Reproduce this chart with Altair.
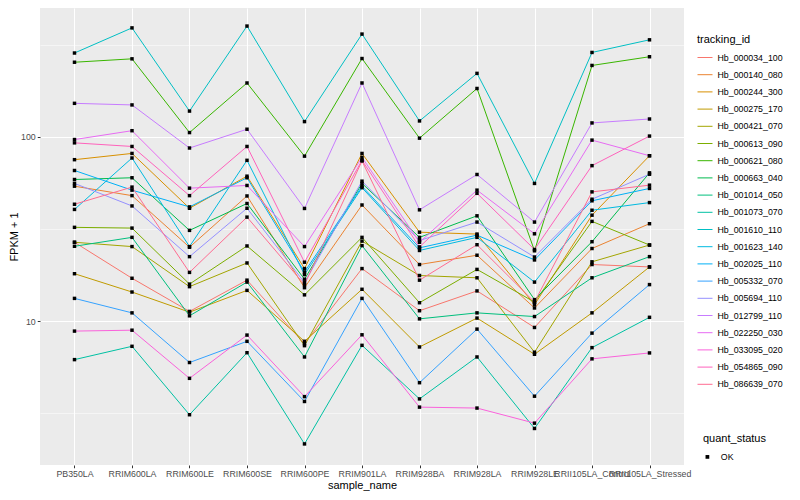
import altair as alt
import pandas as pd

samples = ["PB350LA", "RRIM600LA", "RRIM600LE", "RRIM600SE", "RRIM600PE", "RRIM901LA",
           "RRIM928BA", "RRIM928LA", "RRIM928LE", "RRII105LA_Control", "RRII105LA_Stressed"]

genes = ["Hb_000034_100", "Hb_000140_080", "Hb_000244_300", "Hb_000275_170", "Hb_000421_070",
         "Hb_000613_090", "Hb_000621_080", "Hb_000663_040", "Hb_001014_050", "Hb_001073_070",
         "Hb_001610_110", "Hb_001623_140", "Hb_002025_110", "Hb_005332_070", "Hb_005694_110",
         "Hb_012799_110", "Hb_022250_030", "Hb_033095_020", "Hb_054865_090", "Hb_086639_070"]

colors = ["#F8766D", "#EA8331", "#D89000", "#C09B00", "#A3A500", "#7CAE00", "#39B600", "#00BB4E",
          "#00BF7D", "#00C1A3", "#00BFC4", "#00BAE0", "#00B0F6", "#35A2FF", "#9590FF", "#C77CFF",
          "#E76BF3", "#FA62DB", "#FF62BC", "#FF6C91"]

hb_000034_100 = [26.8, 17.1, 11.3, 16.7, 7.55, 19.3, 11.4, 14.6, 9.25, 20.3, 19.7]
hb_000140_080 = [54.0, 48.0, 25.2, 47.8, 15.2, 42.7, 20.3, 22.8, 11.8, 24.8, 33.8]
hb_000244_300 = [75.2, 81.3, 41.0, 61.2, 19.3, 81.3, 30.4, 29.7, 12.3, 37.6, 79.0]
hb_000275_170 = [18.1, 14.4, 11.2, 14.7, 7.78, 14.9, 7.25, 10.4, 6.62, 11.1, 19.7]
hb_000421_070 = [26.8, 25.4, 15.4, 20.7, 7.37, 27.2, 17.7, 17.2, 6.79, 21.0, 25.9]
hb_000613_090 = [32.3, 32.0, 15.9, 25.6, 13.9, 28.5, 12.6, 19.1, 12.7, 34.8, 25.9]
hb_000621_080 = [254, 265, 105.5, 196, 78.6, 266, 98.4, 183, 24.1, 244, 272]
hb_000663_040 = [58.7, 60.0, 31.1, 43.5, 16.9, 55.9, 28.5, 37.3, 13.1, 27.0, 63.8]
hb_001014_050 = [25.5, 28.5, 10.7, 16.3, 6.40, 25.7, 10.3, 11.1, 10.6, 17.2, 22.4]
hb_001073_070 = [6.19, 7.31, 3.11, 6.75, 2.16, 7.40, 3.79, 6.40, 2.62, 7.19, 10.5]
hb_001610_110 = [285, 390, 138, 399, 121, 361, 122, 221, 55.9, 287, 336]
hb_001623_140 = [40.4, 76.8, 25.4, 74.6, 17.9, 53.0, 24.2, 28.5, 16.3, 40.0, 44.0]
hb_002025_110 = [65.7, 51.4, 41.7, 60.0, 18.5, 54.0, 25.0, 29.3, 21.5, 45.0, 52.5]
hb_005332_070 = [13.3, 11.1, 5.97, 7.78, 3.67, 13.3, 4.64, 9.06, 3.92, 8.62, 15.8]
hb_005694_110 = [55.9, 42.2, 22.4, 41.0, 16.2, 57.5, 27.4, 34.5, 22.3, 45.9, 62.7]
hb_012799_110 = [152, 149, 87.0, 110, 40.9, 196, 40.2, 62.5, 34.5, 119, 125]
hb_022250_030 = [96.7, 108, 52.7, 54.5, 25.4, 77.4, 26.8, 51.4, 29.8, 96.0, 79.0]
hb_033095_020 = [8.84, 8.94, 4.90, 8.41, 3.90, 8.44, 3.42, 3.38, 2.80, 6.25, 6.73]
hb_054865_090 = [92.8, 88.7, 48.0, 88.7, 20.9, 74.6, 25.3, 49.4, 24.5, 69.8, 101]
hb_086639_070 = [43.1, 53.4, 18.4, 36.7, 15.8, 74.0, 16.7, 26.0, 12.7, 50.3, 54.7]

series = [hb_000034_100, hb_000140_080, hb_000244_300, hb_000275_170, hb_000421_070,
          hb_000613_090, hb_000621_080, hb_000663_040, hb_001014_050, hb_001073_070,
          hb_001610_110, hb_001623_140, hb_002025_110, hb_005332_070, hb_005694_110,
          hb_012799_110, hb_022250_030, hb_033095_020, hb_054865_090, hb_086639_070]

rows = []
for g, vals in zip(genes, series):
    for s, v in zip(samples, vals):
        rows.append({"sample_name": s, "tracking_id": g, "fpkm1": v, "quant_status": "OK"})
df = pd.DataFrame(rows)

FONT = "Liberation Sans"
major = "datum.value == 10 || datum.value == 100"

x = alt.X("sample_name:N", sort=samples,
          scale=alt.Scale(type="point", padding=0.6),
          axis=alt.Axis(title="sample_name", labelAngle=0, labelOverlap=False,
                        labelColor="#4D4D4D", labelFontSize=8.8, labelPadding=1.5,
                        tickColor="#333333", tickSize=2.75, tickWidth=1,
                        grid=True, gridColor="white", gridWidth=1.07, domain=False,
                        titleFontSize=11, titleFontWeight="normal", titleColor="black",
                        titlePadding=1))

y = alt.Y("fpkm1:Q",
          scale=alt.Scale(type="log", domain=[1.66, 500], nice=False),
          axis=alt.Axis(title="FPKM + 1", values=[3.1623, 10, 31.623, 100, 316.23],
                        labelExpr="(" + major + ") ? datum.label : ''",
                        labelColor="#4D4D4D", labelFontSize=8.8, labelPadding=2,
                        tickColor="#333333", tickSize=2.75, tickWidth=1,
                        tickOpacity={"condition": {"test": major, "value": 1}, "value": 0},
                        grid=True, gridColor="white",
                        gridWidth={"condition": {"test": major, "value": 1.07}, "value": 0.53},
                        domain=False, titleFontSize=11, titleFontWeight="normal",
                        titleColor="black", titlePadding=1.5))

lines = alt.Chart(df).mark_line(strokeWidth=1).encode(
    x=x, y=y,
    color=alt.Color("tracking_id:N", scale=alt.Scale(domain=genes, range=colors),
                    legend=alt.Legend(title="tracking_id", orient="none", legendX=657, legendY=26,
                                      symbolType="stroke", symbolSize=225, symbolStrokeWidth=1,
                                      rowPadding=4.2, titlePadding=4.5, labelOffset=4.5,
                                      padding=0)),
)

points = alt.Chart(df).mark_point(filled=True, size=12, opacity=1, color="black").encode(
    x=x, y=y,
    shape=alt.Shape("quant_status:N", scale=alt.Scale(domain=["OK"], range=["square"]),
                    legend=alt.Legend(title="quant_status", orient="none", legendX=663, legendY=425,
                                      symbolSize=14, symbolFillColor="black",
                                      symbolStrokeColor="black", titlePadding=8.5,
                                      labelOffset=9, padding=0)),
)

chart = alt.layer(lines, points).properties(
    width=644, height=457, autosize="none",
    padding={"left": 32, "top": 0, "right": 108, "bottom": 27},
).configure_view(fill="#EBEBEB", stroke=None).configure_axis(
    labelFont=FONT, titleFont=FONT
).configure_legend(
    labelFont=FONT, titleFont=FONT, labelFontSize=8.8, titleFontSize=11,
    titleFontWeight="normal", labelColor="black", titleColor="black"
)

chart.save("out.html", embed_options={"renderer": "svg", "actions": False})
